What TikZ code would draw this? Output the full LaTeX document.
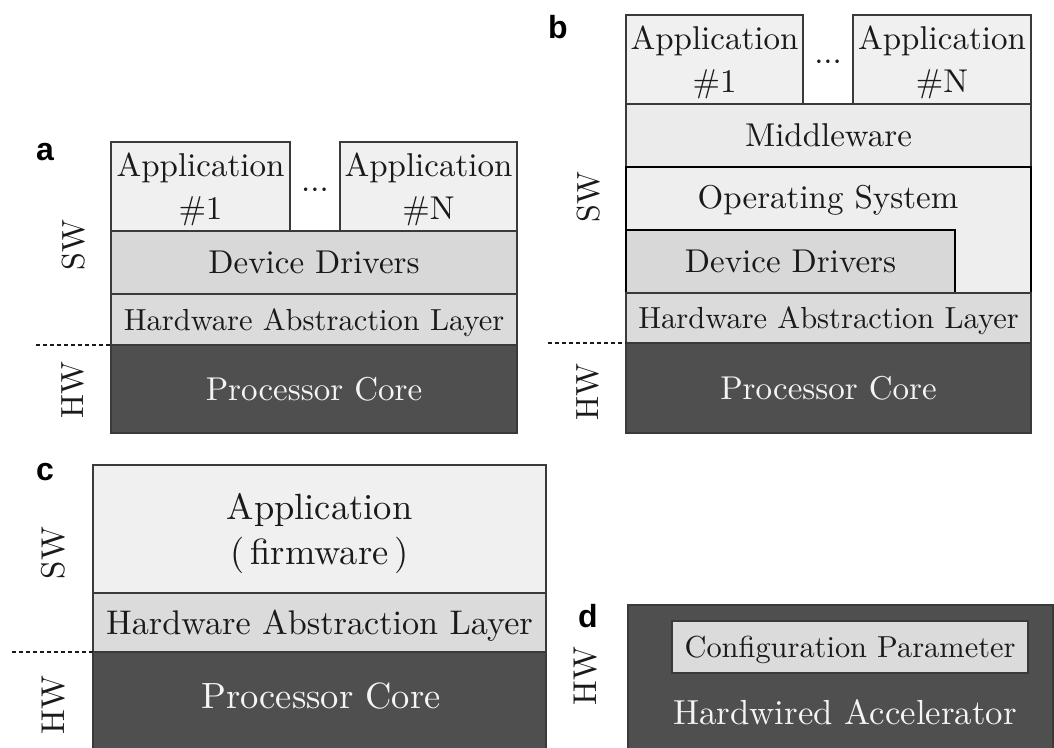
\documentclass[tikz,border=0pt]{standalone}
\usepackage{fontspec}
\setmainfont{lmroman10-regular.otf}
\newfontfamily\lblfont{Liberation Sans}
\definecolor{appfill}{HTML}{F0F0F0}
\definecolor{ddfill}{HTML}{D8D8D8}
\definecolor{halfill}{HTML}{DBDBDB}
\definecolor{mwfill}{HTML}{EBEBEB}
\definecolor{osfill}{HTML}{EEEEEE}
\definecolor{pcfill}{HTML}{4F4F4F}
\definecolor{edge}{HTML}{3A3A3A}
\definecolor{txt}{HTML}{1A1A1A}
\definecolor{wtxt}{HTML}{F4F4F4}
\begin{document}
\begin{tikzpicture}[x=1pt,y=-1pt,
  box/.style={draw=edge, line width=1.2pt, inner sep=0pt, outer sep=0pt,
    anchor=north west, text=txt, align=center, text depth=0pt},
  appbox/.style={box, fill=appfill},
  ddbox/.style={box, fill=ddfill},
  halbox/.style={box, fill=halfill},
  mwbox/.style={box, fill=mwfill},
  pcbox/.style={box, fill=pcfill, text=wtxt},
  fA/.style={font=\fontsize{33}{43}\selectfont},
  fH/.style={font=\fontsize{30.5}{40}\selectfont},
  fC/.style={font=\fontsize{36.5}{45}\selectfont},
  fCH/.style={font=\fontsize{34.2}{44}\selectfont},
  side/.style={font=\fontsize{32}{36}\selectfont, rotate=90, text=txt, inner sep=0pt, text depth=0pt},
  sideC/.style={font=\fontsize{33}{36}\selectfont, rotate=90, text=txt, inner sep=0pt, text depth=0pt},
  panel/.style={font=\lblfont\bfseries\fontsize{32}{36}\selectfont, anchor=base west, inner sep=0pt},
  sep/.style={line width=1.5pt, dash pattern=on 4pt off 3pt, draw=txt}
]
\clip (0,0) rectangle (1054,747);
\useasboundingbox (0,0) rectangle (1054,747);

% ---------------- panel a ----------------
\node[panel] (la) at (36,160) {a};
\node[appbox, fA, minimum width=179pt, minimum height=89pt] (a1) at (111,142) {Application\\\#1};
\node[appbox, fA, minimum width=177pt, minimum height=89pt] (aN) at (340,142) {Application\\\#N};
\node[fA, anchor=base, text=txt, inner sep=0pt] (adots) at (315,191) {...};
\node[ddbox, fA, minimum width=406pt, minimum height=63pt] (ad) at (111,231) {Device Drivers};
\node[halbox, fH, minimum width=406pt, minimum height=51pt] (ah) at (111,294) {Hardware Abstraction Layer};
\node[pcbox, fA, minimum width=406pt, minimum height=88pt] (ap) at (111,345) {Processor Core};
\coordinate (adash) at (36,345);
\draw[sep] (adash) -- (ap.north west);
\node[side] (asw) at (73,245) {SW};
\node[side] (ahw) at (73,390) {HW};

% ---------------- panel b ----------------
\node[panel] (lb) at (548,38) {b};
\node[appbox, fA, minimum width=177pt, minimum height=89pt] (b1) at (626,15) {Application\\\#1};
\node[appbox, fA, minimum width=178pt, minimum height=89pt] (bN) at (853,15) {Application\\\#N};
\node[fA, anchor=base, text=txt, inner sep=0pt] (bdots) at (828,63) {...};
\node[mwbox, fA, minimum width=405pt, minimum height=63pt] (bm) at (626,104) {Middleware};
\draw[fill=osfill, draw=black, line width=1.8pt]
  (626,167) -- (1031,167) -- (1031,293) -- (955,293) -- (955,230) -- (626,230) -- cycle;
\node[fA, text=txt, inner sep=0pt, text depth=0pt] (bos) at (828,197) {Operating System};
\node[ddbox, draw=black, line width=1.6pt, fA, minimum width=329pt, minimum height=63pt] (bd) at (626,230) {Device Drivers};
\node[halbox, fH, minimum width=405pt, minimum height=50pt] (bh) at (626,293) {Hardware Abstraction Layer};
\node[pcbox, fA, minimum width=405pt, minimum height=90pt] (bp) at (626,343) {Processor Core};
\coordinate (bdash) at (548,343);
\draw[sep] (bdash) -- (bp.north west);
\node[side] (bsw) at (588,197) {SW};
\node[side] (bhw) at (588,392) {HW};

% ---------------- panel c ----------------
\node[panel] (lc) at (36,480) {c};
\node[appbox, fC, minimum width=453pt, minimum height=128pt] (ca) at (93,465) {Application\\(\,firmware\,)};
\node[halbox, fCH, minimum width=453pt, minimum height=59pt] (ch) at (93,593) {Hardware Abstraction Layer};
\node[pcbox, minimum width=453pt, minimum height=110pt] (cp) at (93,652) {};
\node[fC, text=wtxt, inner sep=0pt, text depth=0pt] (cpt) at (321,696) {Processor Core};
\coordinate (cdash) at (12,652);
\draw[sep] (cdash) -- (cp.north west);
\node[sideC] (csw) at (53,553) {SW};
\node[sideC] (chw) at (53,705) {HW};

% ---------------- panel d ----------------
\node[panel] (ld) at (578,627) {d};
\node[pcbox, minimum width=425pt, minimum height=160pt] (dacc) at (628,605) {};
\node[halbox, font=\fontsize{30.4}{36}\selectfont, minimum width=356pt, minimum height=52pt] (dcfg) at (672,621) {Configuration Parameter};
\node[font=\fontsize{34.8}{40}\selectfont, text=wtxt, inner sep=0pt, text depth=0pt] (dacct) at (845,712) {Hardwired Accelerator};
\node[sideC] (dhw) at (585,676) {HW};
\end{tikzpicture}
\end{document}
